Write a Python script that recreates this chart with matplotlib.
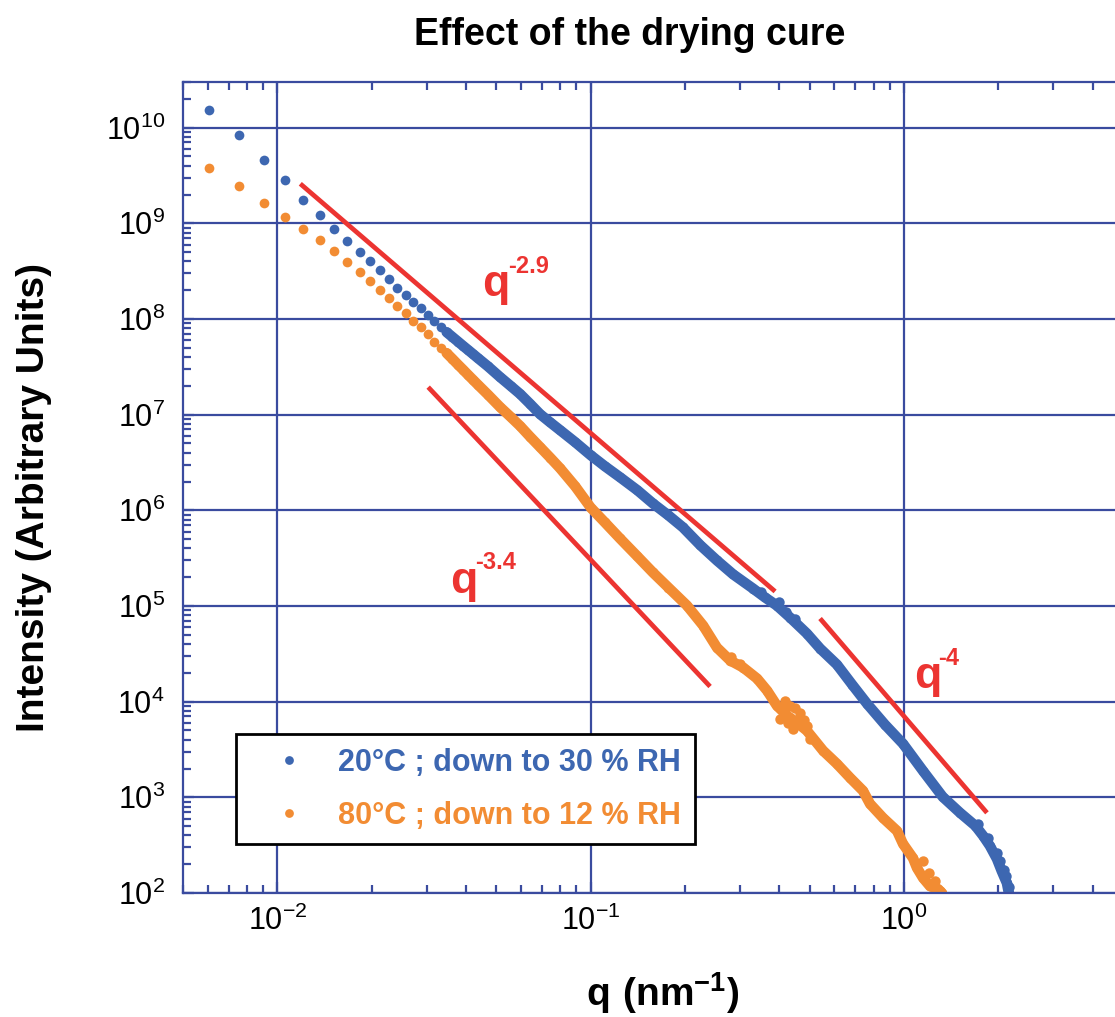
import numpy as np
import matplotlib
matplotlib.use('Agg')
import matplotlib.pyplot as plt
from matplotlib.ticker import LogLocator, FuncFormatter, NullFormatter

plt.rcParams['font.family'] = ['Liberation Sans', 'DejaVu Sans']
plt.rcParams['mathtext.fontset'] = 'custom'
plt.rcParams['mathtext.rm'] = 'Liberation Sans'
plt.rcParams['mathtext.bf'] = 'Liberation Sans:bold'
plt.rcParams['mathtext.default'] = 'regular'

# 20 C / 30 % RH  (q in nm^-1, intensity in arbitrary units)
q_blue = [0.00607, 0.00756, 0.00909, 0.0106, 0.0121, 0.0137, 0.0152, 0.0167,
          0.0183, 0.0197, 0.0213, 0.0228, 0.0241, 0.0257, 0.0272, 0.0287,
          0.0302, 0.0317, 0.0332, 0.0347, 0.0362, 0.0377, 0.0392, 0.0407,
          0.0422, 0.0437, 0.0470, 0.0514, 0.0555, 0.0596, 0.0640, 0.0690,
          0.0743, 0.0799, 0.0893, 0.100, 0.111, 0.124, 0.141, 0.158, 0.177,
          0.197, 0.224, 0.253, 0.285, 0.330, 0.360, 0.393, 0.433, 0.490,
          0.540, 0.611, 0.683, 0.762, 0.870, 0.993, 1.15, 1.33, 1.51, 1.69,
          1.79, 1.88, 1.98, 2.05, 2.13, 2.16]
i_blue = [1.54e10, 8.3e9, 4.63e9, 2.85e9, 1.76e9, 1.23e9, 8.65e8, 6.56e8,
          5.03e8, 4.0e8, 3.26e8, 2.62e8, 2.11e8, 1.78e8, 1.51e8, 1.30e8,
          1.10e8, 9.5e7, 8.2e7, 7.28e7, 6.49e7, 5.81e7, 5.22e7, 4.72e7,
          4.28e7, 3.89e7, 3.2e7, 2.47e7, 2.0e7, 1.64e7, 1.30e7, 1.01e7,
          8.3e6, 6.88e6, 5.15e6, 3.77e6, 2.89e6, 2.22e6, 1.62e6, 1.18e6, 8.87e5,
          6.64e5, 4.31e5, 2.99e5, 2.14e5, 1.52e5, 1.23e5, 1.01e5, 7.58e4, 5.15e4,
          3.59e4, 2.44e4, 1.51e4, 9.53e3, 5.74e3, 3.63e3, 1.89e3, 1.01e3, 689, 504,
          395, 311, 227, 170, 127, 100]
# noisy points that stick out of the band
q_blue_noise = [0.35, 0.40, 0.42, 0.45, 1.72, 1.85, 1.98, 2.03, 2.08, 2.12, 2.17]
i_blue_noise = [1.40e5, 1.10e5, 8.6e4, 7.3e4, 530, 380, 260, 215, 175, 150, 115]

# 80 C / 12 % RH
q_orange = [0.00607, 0.00756, 0.00909, 0.0106, 0.0121, 0.0137, 0.0152, 0.0167,
            0.0183, 0.0197, 0.0213, 0.0228, 0.0241, 0.0257, 0.0272, 0.0287,
            0.0302, 0.0317, 0.0332, 0.0347, 0.0362, 0.0377, 0.0392, 0.0407,
            0.0422, 0.0437, 0.0470, 0.0514, 0.0555, 0.0596, 0.0640, 0.0690,
            0.0743, 0.0799, 0.0893, 0.100, 0.111, 0.124, 0.141, 0.158, 0.177,
            0.203, 0.2285, 0.253, 0.279, 0.307, 0.340, 0.366, 0.393, 0.424,
            0.456, 0.490, 0.552, 0.611, 0.673, 0.740, 0.779, 0.857, 0.950,
            0.993, 1.068, 1.100, 1.150, 1.210, 1.284, 1.322]
i_orange = [3.81e9, 2.47e9, 1.64e9, 1.17e9, 8.65e8, 6.71e8, 5.09e8, 3.95e8,
            3.07e8, 2.47e8, 2.01e8, 1.66e8, 1.37e8, 1.16e8, 9.5e7, 8.2e7,
            6.97e7, 5.74e7, 4.97e7, 4.40e7, 3.83e7, 3.34e7, 2.94e7, 2.59e7,
            2.30e7, 2.05e7, 1.62e7, 1.20e7, 9.5e6, 7.59e6, 5.9e6, 4.57e6,
            3.55e6, 2.75e6, 1.78e6, 1.07e6, 7.48e5, 5.09e5, 3.30e5, 2.24e5, 1.56e5,
            1.01e5, 6.25e4, 3.67e4, 2.69e4, 2.27e4, 1.74e4, 1.30e4, 9.08e3, 7.13e3,
            6.02e3, 4.97e3, 3.07e3, 2.24e3, 1.60e3, 1.17e3, 855, 610, 446,
            326, 232, 183, 144, 118, 110, 100]
q_orange_noise = [0.28, 0.30, 0.402, 0.41, 0.417, 0.425, 0.433, 0.442, 0.45,
                  0.458, 0.466, 0.48, 0.49, 0.501, 1.15, 1.20, 1.256, 1.30]
i_orange_noise = [2.95e4, 2.45e4, 6.64e3, 8.2e3, 1.02e4, 6.0e3, 9.08e3, 5.21e3,
                  8.5e3, 6.2e3, 7.67e3, 6.5e3, 5.6e3, 4.10e3, 216, 160, 134, 105]

# power-law guide lines: (q start, q end), (I start, I end)
guide_q = [(0.01184, 0.3878), (0.0303, 0.2405), (0.5397, 1.840)]
guide_i = [(2.59e9, 1.42e5), (1.94e7, 1.44e4), (7.40e4, 689)]
guide_exp = ['-2.9', '-3.4', '-4']

labels = ['20°C ; down to 30 % RH', '80°C ; down to 12 % RH']
BLUE = '#3D67B1'
ORANGE = '#F28C33'
RED = '#EC3431'
FRAME = '#3A4B9F'

W, H = 1115, 1017
fig = plt.figure(figsize=(W / 100, H / 100), dpi=100)
ax = fig.add_axes([183 / W, 1 - 893 / H, 940 / W, 811 / H])
ax.set_xscale('log')
ax.set_yscale('log')
ax.set_xlim(0.005, 5)
ax.set_ylim(100, 3e10)

n_sparse = 20
for q, i, qn, inn, c, lab in [(q_blue, i_blue, q_blue_noise, i_blue_noise, BLUE, labels[0]),
                              (q_orange, i_orange, q_orange_noise, i_orange_noise, ORANGE, labels[1])]:
    ax.plot(q[n_sparse - 1:], i[n_sparse - 1:], '-', color=c, lw=7.5, zorder=2,
            solid_capstyle='round', solid_joinstyle='round')
    ax.plot(q, i, 'o', color=c, ms=7, mew=0, zorder=2, label=lab)
    ax.plot(qn, inn, 'o', color=c, ms=7.5, mew=0, zorder=2)

for gq, gi in zip(guide_q, guide_i):
    ax.plot(gq, gi, '-', color=RED, lw=3.4, zorder=3, solid_capstyle='butt')

# guide labels (pixel positions of the q and of the exponent)
label_pos = [((482, 296), (508, 273)), ((450, 593), (475, 569)), ((914, 688), (938, 665))]
for (qp, ep), ex in zip(label_pos, guide_exp):
    fig.text(qp[0] / W, 1 - qp[1] / H, 'q', color=RED, fontsize=32,
             fontweight='bold', va='baseline', ha='left')
    fig.text(ep[0] / W, 1 - ep[1] / H, ex, color=RED, fontsize=17,
             fontweight='bold', va='baseline', ha='left')

# axes styling
ax.grid(True, which='major', color=FRAME, lw=1.6)
ax.set_axisbelow(True)
for s in ax.spines.values():
    s.set_color(FRAME)
    s.set_linewidth(1.6)

ax.xaxis.set_major_locator(LogLocator(base=10, numticks=20))
ax.yaxis.set_major_locator(LogLocator(base=10, numticks=20))
ax.xaxis.set_minor_locator(LogLocator(base=10, subs=np.arange(2, 10), numticks=20))
ax.yaxis.set_minor_locator(LogLocator(base=10, subs=np.arange(2, 10), numticks=20))
fmt = FuncFormatter(lambda v, pos: r'$10^{%d}$' % int(round(np.log10(v))))
ax.xaxis.set_major_formatter(fmt)
ax.yaxis.set_major_formatter(fmt)
ax.xaxis.set_minor_formatter(NullFormatter())
ax.yaxis.set_minor_formatter(NullFormatter())
ax.tick_params(which='both', direction='in', top=True, right=False,
               color=FRAME, width=1.6, labelsize=22, labelcolor='black')
ax.tick_params(which='minor', length=6)
ax.tick_params(which='major', length=8)
ax.tick_params(axis='y', which='major', pad=13)
ax.tick_params(axis='x', which='major', pad=9)

ax.set_xlabel(r'$\mathbf{q\ (nm^{-1})}$', fontsize=28)
ax.xaxis.set_label_coords(0.51, -0.095)
ax.set_ylabel('Intensity (Arbitrary Units)', fontsize=28, fontweight='bold')
ax.yaxis.set_label_coords(-0.139, 0.488)

fig.text(630 / W, 1 - 45 / H, 'Effect of the drying cure', fontsize=27,
         fontweight='bold', ha='center', va='baseline')

leg = ax.legend(loc='upper left', bbox_to_anchor=((236 - 183) / 940, (893 - 734) / 811),
                borderaxespad=0, fancybox=False, edgecolor='black', framealpha=1,
                prop={'size': 22, 'weight': 'bold'}, labelcolor=[BLUE, ORANGE],
                handlelength=2.6, handletextpad=0.3, labelspacing=0.75,
                borderpad=0.45, markerscale=0.9)
leg.get_frame().set_linewidth(2)

fig.savefig('out.png', dpi=100)
